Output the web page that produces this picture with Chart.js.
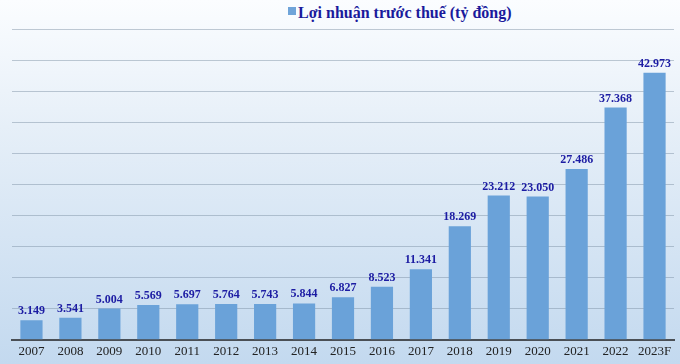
<!DOCTYPE html>
<html>
<head>
<meta charset="utf-8">
<script src="https://cdn.jsdelivr.net/npm/chart.js@4.4.1/dist/chart.umd.min.js"></script>
<style>
  html, body { margin: 0; padding: 0; }
  body {
    width: 680px;
    height: 364px;
    overflow: hidden;
    background: linear-gradient(to bottom, #fbfdff 0%, #e6eff8 35%, #c3d9ef 100%);
    position: relative;
    font-family: "Liberation Serif", "DejaVu Serif", serif;
  }
  #wrap { position: absolute; left: 0; top: 0; width: 680px; height: 364px; }
  #legend {
    position: absolute;
    left: 288px;
    top: 4px;
    font: bold 16px "Liberation Serif", serif;
    color: #1a1a9c;
    white-space: nowrap;
  }
  #legend .box {
    display: inline-block;
    width: 8px;
    height: 8px;
    background: #6fa4d9;
    margin-right: 2px;
    vertical-align: 3px;
  }
</style>
</head>
<body>
<div id="legend"><span class="box"></span><span id="legend-text"></span></div>
<div id="wrap"><canvas id="profitChart"></canvas></div>
<script>
const years = ["2007", "2008", "2009", "2010", "2011", "2012", "2013", "2014", "2015",
  "2016", "2017", "2018", "2019", "2020", "2021", "2022", "2023F"];
const profit = [3149, 3541, 5004, 5569, 5697, 5764, 5743, 5844, 6827,
  8523, 11341, 18269, 23212, 23050, 27486, 37368, 42973];
const seriesLabel = "Lợi nhuận trước thuế (tỷ đồng)";

document.getElementById("legend-text").textContent = seriesLabel;

function formatVn(value) {
  return value.toString().replace(/\B(?=(\d{3})+(?!\d))/g, ".");
}

// draws the number above each bar
const valueLabels = {
  id: "valueLabels",
  afterDatasetsDraw(chart) {
    const ctx = chart.ctx;
    const meta = chart.getDatasetMeta(0);
    ctx.save();
    ctx.font = "bold 12px 'Liberation Serif', serif";
    ctx.fillStyle = "#1c1ca3";
    ctx.textAlign = "center";
    ctx.textBaseline = "bottom";
    meta.data.forEach((bar, i) => {
      ctx.fillText(formatVn(profit[i]), bar.x, bar.y - 3);
    });
    ctx.restore();
  },
};

const chartCtx = document.getElementById("profitChart");

new Chart(chartCtx, {
  type: "bar",
  data: {
    labels: years,
    datasets: [
      {
        label: seriesLabel,
        data: profit,
        backgroundColor: "#6aa2d9",
        borderWidth: 0,
        barPercentage: 0.57,
        categoryPercentage: 1,
      },
    ],
  },
  options: {
    responsive: true,
    maintainAspectRatio: false,
    animation: false,
    layout: { padding: { left: 12, right: 6, top: 29, bottom: 0 } },
    plugins: {
      legend: { display: false },
      tooltip: { enabled: false },
    },
    scales: {
      x: {
        grid: { display: false, drawTicks: false },
        border: { color: "#4a4f55", width: 2 },
        ticks: {
          color: "#222",
          padding: 5,
          maxRotation: 0,
          autoSkip: false,
          font: { family: "'Liberation Serif', serif", size: 13, lineHeight: 1.1 },
        },
      },
      y: {
        min: 0,
        max: 50000,
        ticks: { display: false, stepSize: 5000 },
        border: { display: false },
        grid: { color: "rgba(120, 140, 160, 0.45)", lineWidth: 1, drawTicks: false },
      },
    },
  },
  plugins: [valueLabels],
});
</script>
</body>
</html>
